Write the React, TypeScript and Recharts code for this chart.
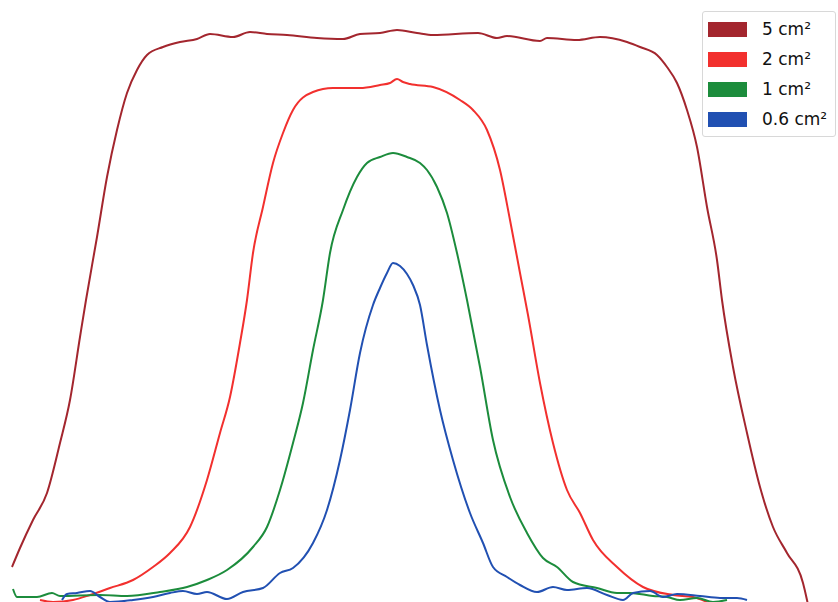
import { Line, LineChart, XAxis, YAxis } from 'recharts'

// beam profiles, [position, relative intensity]
const profile5: [number, number][] = [
  [12, 35], [20, 54], [33, 82], [47, 109], [60, 159], [70, 202], [80, 265], [86, 302], [97, 365],
  [107, 425], [117, 472], [127, 509], [137, 532], [147, 547], [163, 555], [180, 560], [197, 563],
  [210, 568], [233, 565], [250, 570], [267, 568], [287, 567], [317, 564], [343, 563], [360, 568],
  [380, 569], [397, 572], [417, 569], [433, 567], [478, 569], [497, 564], [507, 566], [540, 561],
  [547, 564], [577, 562], [600, 565], [627, 560], [640, 555], [657, 547], [667, 535], [677, 519],
  [687, 492], [697, 455], [707, 395], [717, 342], [722, 302], [733, 235], [747, 169], [760, 115],
  [773, 75], [787, 49], [803, 19], [807, 2], [810, -13],
]

const profile2: [number, number][] = [
  [40, 2], [53, 0], [73, 2], [90, 7], [110, 14], [133, 22], [153, 35], [170, 49], [190, 75],
  [207, 122], [220, 169], [230, 205], [240, 259], [247, 302], [253, 349], [263, 395], [273, 439],
  [283, 469], [293, 492], [313, 510], [333, 514], [360, 514], [380, 517], [390, 519], [397, 523],
  [403, 520], [410, 518], [433, 515], [460, 502], [473, 492], [487, 472], [500, 432], [510, 382],
  [520, 329], [528, 287], [540, 219], [553, 159], [567, 112], [580, 89], [593, 62], [617, 35],
  [643, 15], [673, 7], [693, 5], [707, 0],
]

const profile1: [number, number][] = [
  [13, 13], [17, 5], [37, 5], [52, 9], [60, 6], [100, 7], [127, 6], [160, 10], [187, 15], [207, 22],
  [227, 32], [253, 55], [267, 75], [280, 112], [293, 159], [303, 199], [313, 252], [323, 302],
  [330, 349], [343, 392], [357, 425], [367, 439], [380, 445], [393, 449], [407, 445], [420, 439],
  [427, 432], [437, 415], [447, 389], [457, 349], [467, 302], [480, 235], [493, 162], [510, 105],
  [527, 69], [543, 44], [557, 35], [573, 20], [597, 14], [617, 9], [630, 9], [653, 6], [667, 5],
  [680, 2], [697, 4], [713, 0], [727, 2],
]

const profile06: [number, number][] = [
  [62, 2], [67, 8], [77, 9], [90, 11], [100, 5], [110, 0], [133, 2], [153, 5], [170, 9], [183, 11],
  [197, 8], [207, 10], [227, 3], [243, 10], [263, 14], [280, 29], [293, 34], [313, 59], [327, 92],
  [340, 142], [350, 192], [360, 249], [373, 297], [380, 314], [387, 329], [393, 339], [400, 336],
  [407, 328], [413, 317], [420, 297], [427, 257], [440, 192], [453, 142], [470, 89], [483, 59],
  [493, 35], [507, 25], [520, 17], [537, 10], [553, 15], [567, 12], [587, 14], [607, 7], [623, 2],
  [633, 9], [650, 11], [663, 5], [677, 8], [700, 6], [720, 4], [737, 4], [747, 2],
]

const series = [
  { name: '5 cm²', color: '#a3262e', points: profile5 },
  { name: '2 cm²', color: '#f2302e', points: profile2 },
  { name: '1 cm²', color: '#1c8c3c', points: profile1 },
  { name: '0.6 cm²', color: '#2150b2', points: profile06 },
]

function LegendBox() {
  return (
    <div
      style={{
        position: 'absolute',
        left: 702,
        top: 11,
        background: 'rgba(255,255,255,0.85)',
        border: '1px solid #d8d8d8',
        borderRadius: 3,
        padding: '2px 8px 2px 5px',
        fontFamily: '"DejaVu Sans", sans-serif',
        fontSize: 17,
        color: '#111',
      }}
    >
      {series.map((s) => (
        <div key={s.name} style={{ display: 'flex', alignItems: 'center', height: 30 }}>
          <span style={{ width: 39, height: 15, background: s.color, marginRight: 15 }} />
          <span>{s.name}</span>
        </div>
      ))}
    </div>
  )
}

export default function App() {
  return (
    <div style={{ position: 'absolute', left: 0, top: 0, width: 838, height: 602, background: '#fff' }}>
      <LineChart width={838} height={602} margin={{ top: 0, right: 0, bottom: 0, left: 0 }}>
        <XAxis type="number" dataKey="x" domain={[0, 838]} hide allowDataOverflow />
        <YAxis type="number" dataKey="y" domain={[0, 602]} hide allowDataOverflow />
        {series.map((s) => (
          <Line
            key={s.name}
            name={s.name}
            data={s.points.map(([x, y]) => ({ x, y }))}
            dataKey="y"
            type="monotone"
            stroke={s.color}
            strokeWidth={2}
            dot={false}
            activeDot={false}
            isAnimationActive={false}
          />
        ))}
      </LineChart>
      <LegendBox />
    </div>
  )
}
